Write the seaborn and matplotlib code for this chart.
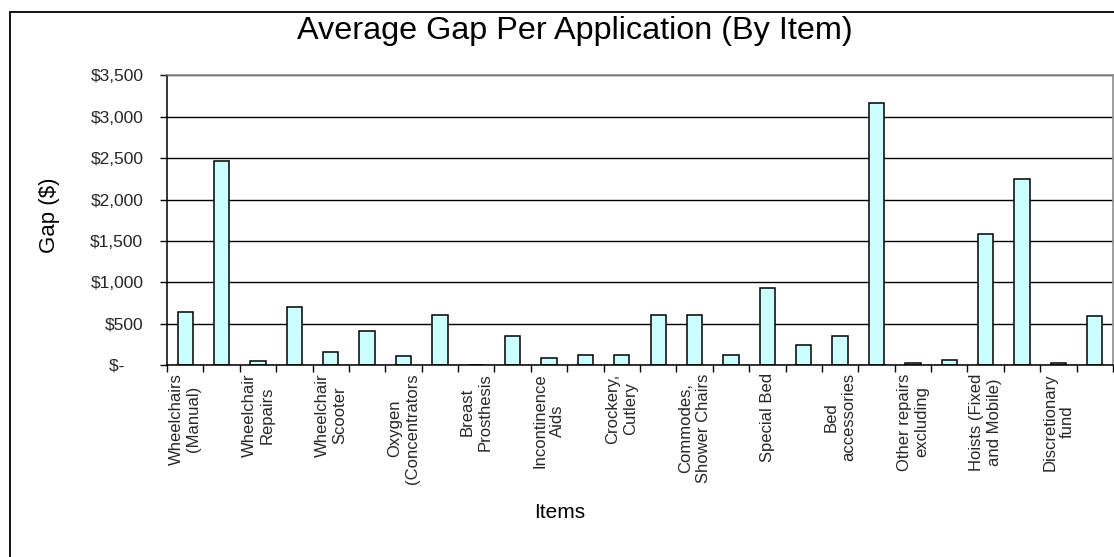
import numpy as np
import pandas as pd
import matplotlib
matplotlib.use("Agg")
import matplotlib.pyplot as plt
from matplotlib.patches import Rectangle
from matplotlib.ticker import FuncFormatter
import seaborn as sns

# Category labels (only every other slot carries a printed label)
item_labels = [
    "Wheelchairs\n(Manual)", "",
    "Wheelchair\nRepairs", "",
    "Wheelchair\nScooter", "",
    "Oxygen\n(Concentrators", "",
    "Breast\nProsthesis", "",
    "Incontinence\nAids", "",
    "Crockery,\nCutlery", "",
    "Commodes,\nShower Chairs", "",
    "Special Bed", "",
    "Bed\naccessories", "",
    "Other repairs\nexcluding", "",
    "Hoists (Fixed\nand Mobile)", "",
    "Discretionary\nfund", "",
]

# Average gap per application ($)
gap_values = [
    645, 2472, 48, 702, 157, 411, 105, 609, 0, 355, 85, 121, 121,
    605, 605, 121, 932, 246, 351, 3173, 28, 65, 1585, 2250, 28, 589,
]

y_ticks = [0, 500, 1000, 1500, 2000, 2500, 3000, 3500]

sns.set_theme(style="white")
plt.rcParams["font.family"] = ["Liberation Sans", "DejaVu Sans"]

W, H = 1114, 557
fig = plt.figure(figsize=(W / 100, H / 100), dpi=100)
fig.patch.set_facecolor("white")

left, right, top, bottom = 167, 1113, 75.5, 365
ax = fig.add_axes([left / W, 1 - bottom / H, (right - left) / W, (bottom - top) / H])

df = pd.DataFrame({"slot": np.arange(len(gap_values)), "gap": gap_values})
sns.barplot(data=df, x="slot", y="gap", color="#CCFFFF", saturation=1,
            edgecolor="black", linewidth=1.1, width=0.42, ax=ax)

ax.set_xlim(-0.5, len(gap_values) - 0.5)
ax.set_ylim(y_ticks[0], y_ticks[-1])

# Tick marks on category boundaries, labels centred under each slot
ax.set_xticks(np.arange(-0.5, len(gap_values), 1.0))
ax.set_xticklabels([])
ax.set_xticks(np.arange(len(gap_values)), minor=True)
ax.set_xticklabels(item_labels, minor=True, rotation=90, ha="center",
                   va="top", multialignment="center", fontsize=12)
ax.tick_params(axis="x", which="major", direction="out", length=5,
               width=1, color="black", bottom=True)
ax.tick_params(axis="x", which="minor", length=0, pad=6, bottom=True)

def money(v, pos):
    if v == 0:
        return "$-    "
    return f"${v:,.0f}"

ax.set_yticks(y_ticks)
ax.yaxis.set_major_formatter(FuncFormatter(money))
ax.tick_params(axis="y", direction="out", length=5, width=1, color="black",
               left=True, labelsize=12.5, pad=12)

ax.yaxis.grid(True, color="black", linewidth=1)
ax.xaxis.grid(False)
ax.set_axisbelow(True)

for side in ("left", "bottom"):
    ax.spines[side].set_color("black")
    ax.spines[side].set_linewidth(1.1)
for side in ("top", "right"):
    ax.spines[side].set_color("#8c8c8c")
    ax.spines[side].set_linewidth(1.2)

ax.set_xlabel("")
ax.set_ylabel("")

fig.text(575 / W, 1 - 31 / H, "Average Gap Per Application (By Item)",
         ha="center", va="center", fontsize=23.3, color="black")
fig.text(50 / W, 1 - 215 / H, "Gap ($)", rotation=90, ha="center",
         va="center", fontsize=16, color="black")
fig.text(560 / W, 1 - 512 / H, "Items", ha="center", va="center",
         fontsize=15, color="black")

# Chart-area frame, running off the right and bottom edges
fig.add_artist(Rectangle((10 / W, -20 / H), 1.2, (557 - 12 + 20) / H,
                         transform=fig.transFigure, fill=False,
                         edgecolor="black", linewidth=1.3))

fig.savefig("out.png", dpi=100, facecolor="white")
